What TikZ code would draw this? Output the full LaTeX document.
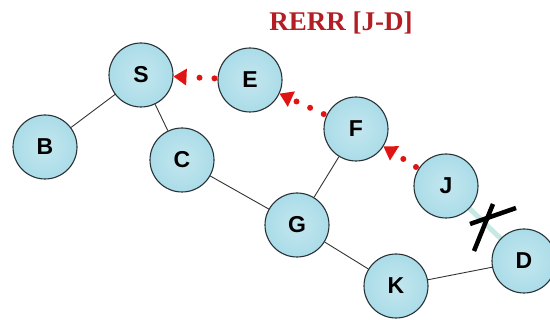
\documentclass[tikz,border=0pt]{standalone}
\usepackage{fontspec}
\setmainfont{Liberation Sans}
\newfontfamily\titlefont{Liberation Serif}
\usetikzlibrary{arrows.meta}
\definecolor{nodefill}{RGB}{170,220,232}
\definecolor{nodeedge}{RGB}{40,50,55}
\definecolor{errred}{RGB}{225,20,20}
\definecolor{titlered}{RGB}{178,30,35}
\definecolor{deadlink}{RGB}{200,232,228}
\tikzset{
  host/.style={circle, minimum size=64pt, inner sep=0pt,
    draw=nodeedge, line width=1.1pt,
    inner color=nodefill!70!white, outer color=nodefill,
    font=\bfseries\fontsize{23}{23}\selectfont},
  link/.style={draw=black!80, line width=0.9pt},
  rerr/.style={errred, line width=6pt, line cap=round,
    dash pattern=on 0pt off 15pt, shorten <=3pt,
    -{Triangle[length=13pt,width=17pt,line width=0pt]}},
  cut/.style={line width=4.5pt, black}
}
\begin{document}
\begin{tikzpicture}[x=1pt,y=-1pt]
  \useasboundingbox (0,0) rectangle (550,320);
  % broken link J--D (drawn first, hosts cover its ends)
  \coordinate (jd1) at (446,186);
  \coordinate (jd2) at (524,261);
  \draw[deadlink, line width=5pt] (jd1) -- (jd2);
  % hosts
  \node[host] (S) at (141,75) {S};
  \node[host] (E) at (250,80) {E};
  \node[host] (F) at (356,129) {F};
  \node[host] (J) at (jd1) {J};
  \node[host] (D) at (jd2) {D};
  \node[host] (K) at (396,286) {K};
  \node[host] (G) at (297,225) {G};
  \node[host] (C) at (182,160) {C};
  \node[host] (B) at (45,147) {B};
  % links
  \draw[link] (S) -- (B);
  \draw[link] (S) -- (C);
  \draw[link] (C) -- (G);
  \draw[link] (G) -- (F);
  \draw[link] (G) -- (K);
  \draw[link] (K) -- (D);
  % route error propagation
  \draw[rerr] (E) -- (S);
  \draw[rerr] (F) -- (E);
  \draw[rerr] (J) -- (F);
  % cut mark on the failed link
  \coordinate (x1a) at (474,251);
  \coordinate (x1b) at (493,204);
  \coordinate (x2a) at (470,224);
  \coordinate (x2b) at (516,208);
  \draw[cut] (x1a) -- (x1b);
  \draw[cut] (x2a) -- (x2b);
  % title
  \node[titlered, font=\titlefont\bfseries\fontsize{27}{27}\selectfont] (title) at (341,23) {RERR [J-D]};
\end{tikzpicture}
\end{document}
